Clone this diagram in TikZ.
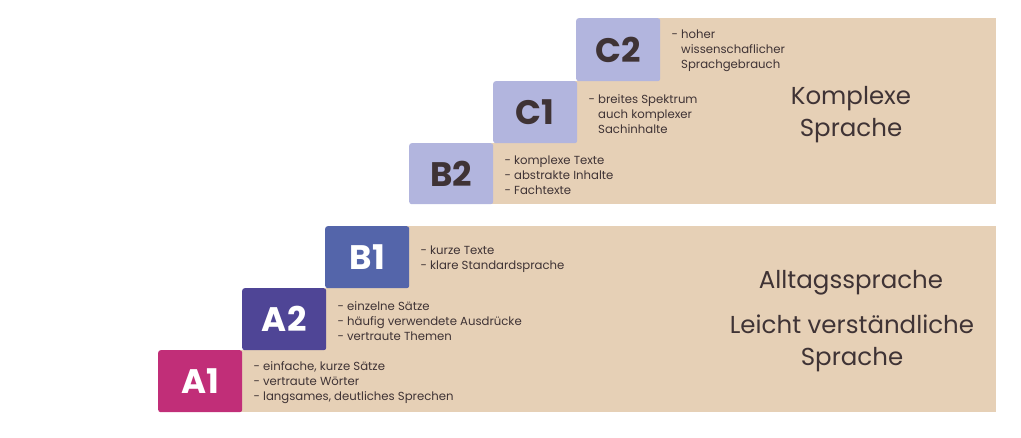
\documentclass[tikz,border=0pt]{standalone}
\usepackage{fontspec}
\setmainfont{Poppins}
\definecolor{beige}{HTML}{E6D0B6}
\definecolor{txt}{HTML}{3F3335}
\definecolor{cAone}{HTML}{C12E78}
\definecolor{cAtwo}{HTML}{4F4596}
\definecolor{cBone}{HTML}{5465AA}
\definecolor{clight}{HTML}{B2B5DE}
\tikzset{
  panel/.style={fill=beige, draw=none},
  level/.style={anchor=north west, minimum width=84pt, minimum height=62pt, inner sep=0pt,
     rounded corners=2.5pt, font=\fontsize{34}{34}\selectfont\bfseries},
  darklevel/.style={level, text=white},
  lightlevel/.style={level, fill=clight, text=txt},
  desc/.style={anchor=west, align=left, text=txt, inner sep=0pt, font=\fontsize{11.7}{15}\selectfont},
  big/.style={align=center, text=txt, inner sep=0pt, font=\fontsize{24.5}{32}\selectfont}
}
\newcommand{\ind}{\hphantom{- }}
\begin{document}
\begin{tikzpicture}[x=1pt,y=-1pt]
\useasboundingbox (0,0) rectangle (1021,437);
% panels (staircase)
\fill[panel] (200,350) rectangle (996,412);
\fill[panel] (284,288) rectangle (996,350);
\fill[panel] (367,226) rectangle (996,288);
\fill[panel] (451,143) rectangle (996,204);
\fill[panel] (534,81) rectangle (996,143);
\fill[panel] (618,18) rectangle (996,81);
% level boxes
\node[darklevel, fill=cAone] (A1) at (158,350) {A1};
\node[darklevel, fill=cAtwo] (A2) at (242,288) {A2};
\node[darklevel, fill=cBone] (B1) at (325,226) {B1};
\node[lightlevel, minimum height=61pt] (B2) at (409,143) {B2};
\node[lightlevel] (C1) at (493,81) {C1};
\node[lightlevel, minimum height=63pt] (C2) at (576,18) {C2};
% descriptions
\node[desc] (dA1) at ([xshift=11pt,yshift=-1.5pt]A1.east) {- einfache, kurze Sätze\\- vertraute Wörter\\- langsames, deutliches Sprechen};
\node[desc] (dA2) at ([xshift=11pt,yshift=-1.5pt]A2.east) {- einzelne Sätze\\- häufig verwendete Ausdrücke\\- vertraute Themen};
\node[desc] (dB1) at ([xshift=11pt,yshift=-1.5pt]B1.east) {- kurze Texte\\- klare Standardsprache};
\node[desc] (dB2) at ([xshift=11pt,yshift=-1.5pt]B2.east) {- komplexe Texte\\- abstrakte Inhalte\\- Fachtexte};
\node[desc] (dC1) at ([xshift=11pt,yshift=-1.5pt]C1.east) {- breites Spektrum\\\ind auch komplexer\\\ind Sachinhalte};
\node[desc] (dC2) at ([xshift=11pt,yshift=-1.5pt]C2.east) {- hoher\\\ind wissenschaflicher\\\ind Sprachgebrauch};
% big labels
\node[big] (komplex) at (851,115) {Komplexe\\Sprache};
\node[big] (alltag) at (851,283) {Alltagssprache};
\node[big] (leicht) at (852,343) {Leicht verständliche\\Sprache};
\end{tikzpicture}
\end{document}
